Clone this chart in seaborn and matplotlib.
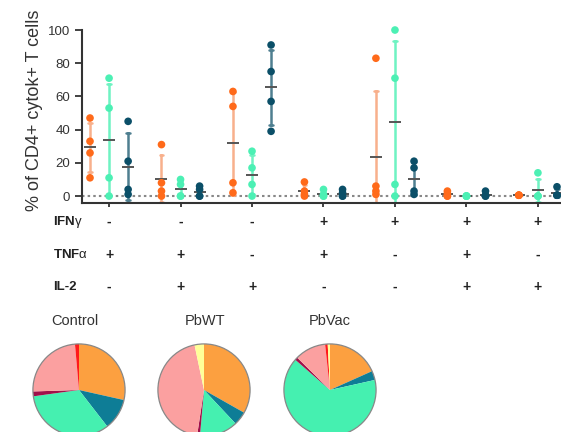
import numpy as np
import pandas as pd
import matplotlib
matplotlib.use("Agg")
import matplotlib.pyplot as plt
from matplotlib.patches import Circle
from matplotlib.transforms import blended_transform_factory
import seaborn as sns

# cytokine combinations (columns), per group the measured values (4 mice)
combos = ["c1", "c2", "c3", "c4", "c5", "c6", "c7"]
ifng = ["-", "-", "-", "+", "+", "+", "+"]
tnfa = ["+", "+", "-", "+", "-", "+", "-"]
il2 = ["-", "+", "+", "-", "-", "+", "+"]

groups = ["Control", "PbWT", "PbVac"]
control_vals = [[47, 33, 26, 11], [31, 8, 3, 0], [63, 54, 8, 2], [8.5, 3, 1, 0],
                [83, 6, 3, 1], [3, 1.5, 0, 0], [0.5, 0.5, 0.5, 0.5]]
pbwt_vals = [[71, 53, 11, 0], [10, 7, 0, 0], [27, 17, 7, 0], [4, 1, 0, 0],
             [100, 71, 7, 0], [0, 0, 0, 0], [14, 0, 0, 0]]
pbvac_vals = [[45, 21, 4, 1], [6, 4, 0, 0], [91, 75, 57, 39], [4, 2, 0, 0],
              [21, 17, 3, 1], [3, 0.5, 0, 0], [5.6, 0.5, 0.5, 0.5]]

# pie fractions (%), clockwise from 12 o'clock
pie_labels = ["a", "b", "c", "d", "e", "f", "g"]
pie_control = [28.5, 11.0, 33.3, 1.7, 24.1, 1.4, 0.0]
pie_pbwt = [33.2, 4.8, 13.4, 1.0, 44.3, 0.0, 3.3]
pie_pbvac = [18.3, 3.2, 64.9, 1.0, 10.9, 0.9, 0.8]

dot_colors = ["#ff6a1a", "#4cf0b4", "#0b4f68"]
bar_colors = ["#f8b08c", "#6ff3c2", "#4f7f90"]
pie_colors = ["#fca040", "#0e7d96", "#45f0b0", "#a0104a", "#fba0a0", "#ff1a1a", "#ffff99"]

rows = []
for g, vals in zip(groups, [control_vals, pbwt_vals, pbvac_vals]):
    for c, vs in zip(combos, vals):
        for v in vs:
            rows.append({"combo": c, "group": g, "value": v})
df = pd.DataFrame(rows)

sns.set_style("ticks")
plt.rcParams["font.family"] = ["Liberation Sans", "DejaVu Sans"]
plt.rcParams["mathtext.fontset"] = "custom"
plt.rcParams["mathtext.rm"] = "Liberation Sans"
plt.rcParams["mathtext.bf"] = "Liberation Sans:bold"

fig = plt.figure(figsize=(5.61, 4.32), dpi=100)
ax = fig.add_axes([0.146, 0.530, 0.86, 0.4005])

# SD error bars
sns.pointplot(data=df, x="combo", y="value", hue="group", order=combos,
              hue_order=groups, palette=bar_colors, errorbar="sd", dodge=0.534,
              linestyle="none", markers="", capsize=0.05, err_kws={"linewidth": 1.8},
              legend=False, ax=ax)
# individual points
sns.stripplot(data=df, x="combo", y="value", hue="group", order=combos,
              hue_order=groups, palette=dot_colors, dodge=True, jitter=False,
              size=5.5, linewidth=0, legend=False, ax=ax, zorder=5, clip_on=False)
# mean line
sns.pointplot(data=df, x="combo", y="value", hue="group", order=combos,
              hue_order=groups, palette=["#555555"] * 3, errorbar=None, dodge=0.534,
              linestyle="none", markers="_", markersize=9, markeredgewidth=1.4,
              legend=False, ax=ax)
for coll in ax.collections:
    coll.set_zorder(5)

ax.axhline(0, color="#888888", lw=1.5, ls=(0, (1.2, 1.5)), zorder=1)
ax.set_xlim(-0.38, 6.37)
ax.set_ylim(-4.2, 100)
ax.set_yticks([0, 20, 40, 60, 80, 100])
ax.set_xticklabels([])
ax.set_xlabel("")
ax.set_ylabel("")
ax.tick_params(axis="y", labelsize=9.5, length=5, width=1.3, colors="#333333")
ax.tick_params(axis="x", length=3, width=1.3, colors="#333333")
sns.despine(ax=ax)
for s in ["left", "bottom"]:
    ax.spines[s].set_linewidth(1.5)
    ax.spines[s].set_color("#333333")

fig.text(0.061, 1 - 110 / 432, "% of CD4+ cytok+ T cells", rotation=90,
         ha="center", va="center", fontsize=13, color="#333333")

# +/- table under the axis
trans = blended_transform_factory(ax.transData, fig.transFigure)
row_y = [1 - 222 / 432, 1 - 255 / 432, 1 - 287 / 432]
row_names = [r"$\mathbf{IFN}\mathrm{\gamma}$", r"$\mathbf{TNF}\mathrm{\alpha}$", "IL-2"]
for y, name, signs in zip(row_y, row_names, [ifng, tnfa, il2]):
    fig.text(53 / 561, y, name, ha="left", va="center", fontsize=9.5,
             fontweight="bold", color="#222222")
    for i, s in enumerate(signs):
        ax.text(i, y, s, transform=trans, ha="center", va="center", fontsize=10,
                fontweight="bold", color="#222222")

# pies
pie_cx = [79, 204, 330]
title_cx = [75, 205, 330]
r = 47
for cx, tx, title, fr in zip(pie_cx, title_cx, groups, [pie_control, pie_pbwt, pie_pbvac]):
    pax = fig.add_axes([(cx - r) / 561, (432 - 390 - r) / 432, 2 * r / 561, 2 * r / 432])
    pax.pie(fr, colors=pie_colors, startangle=90, counterclock=False,
            wedgeprops={"linewidth": 0})
    pax.add_patch(Circle((0, 0), 1, fill=False, edgecolor="#888888", lw=0.9))
    pax.set_xlim(-1.02, 1.02)
    pax.set_ylim(-1.02, 1.02)
    pax.set_aspect("auto")
    pax.axis("off")
    fig.text(tx / 561, 1 - 321 / 432, title, ha="center", va="center",
             fontsize=10.5, color="#333333")

fig.savefig("out.png", dpi=100)
